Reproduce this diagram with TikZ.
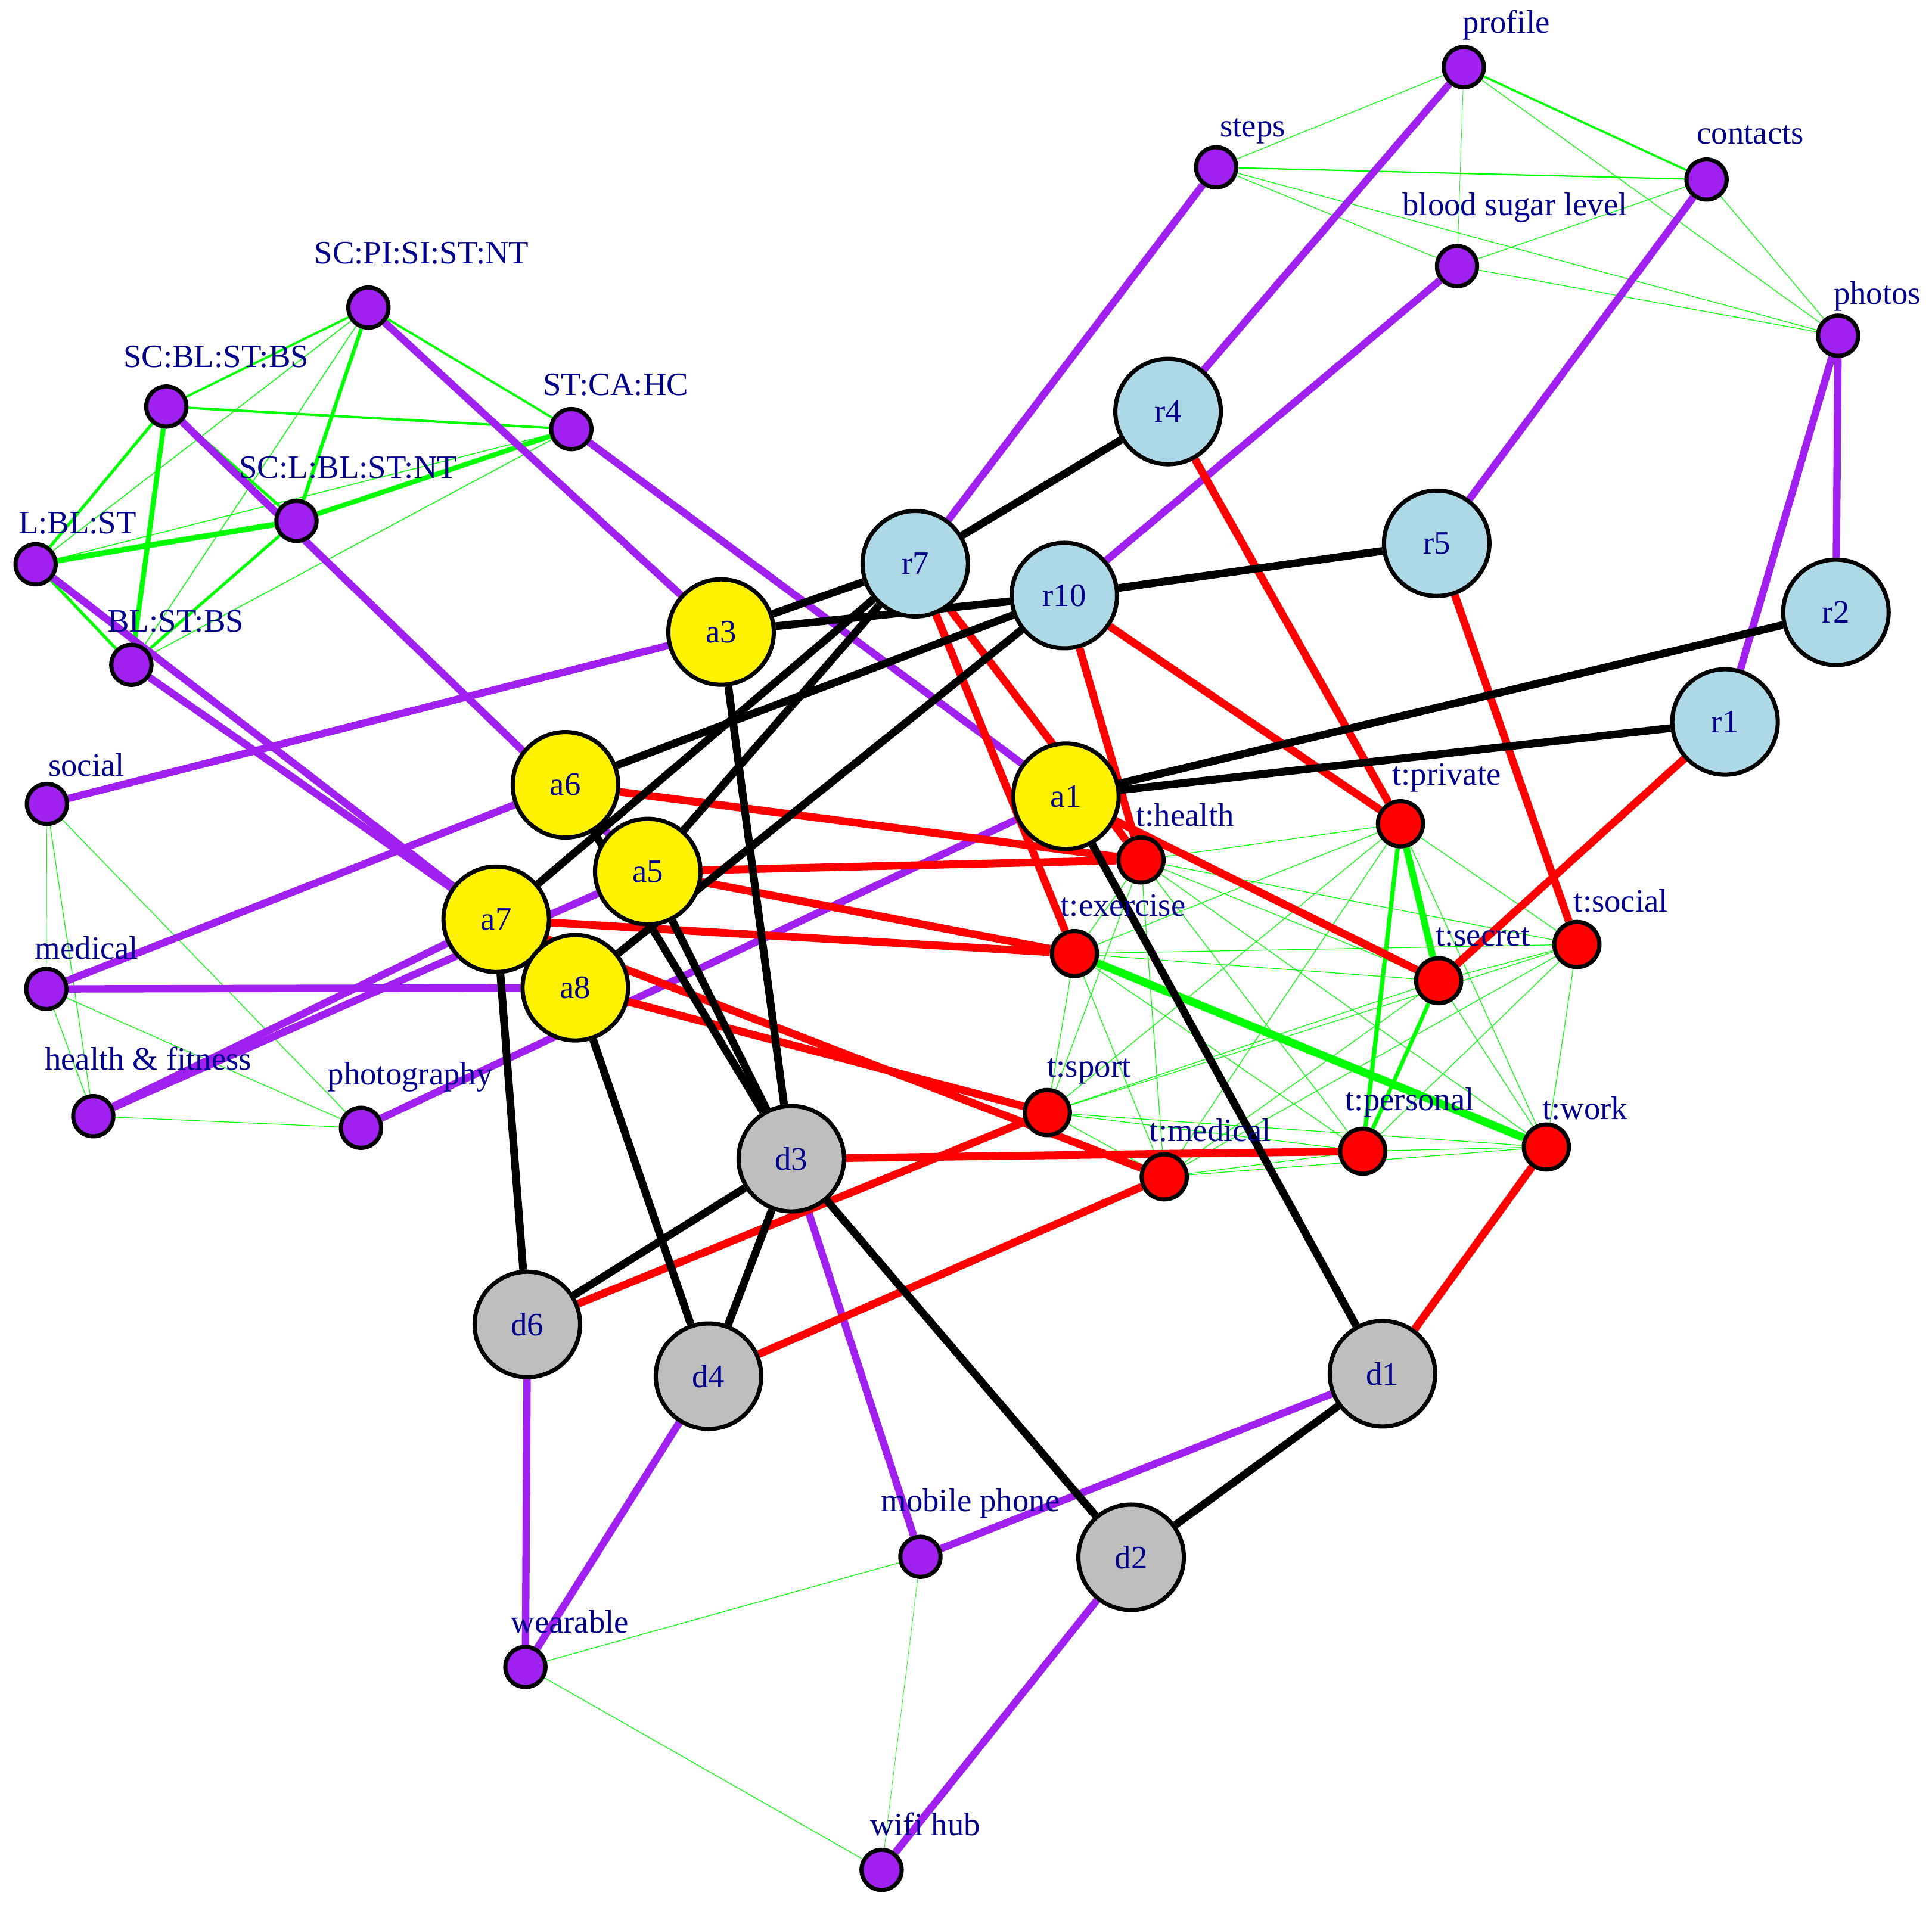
\documentclass[tikz,border=0pt]{standalone}
\usepackage{fontspec}
\setmainfont{Liberation Serif}
\definecolor{vpurple}{HTML}{A020F0}
\definecolor{vblue}{HTML}{ADD8E6}
\definecolor{vgrey}{HTML}{BEBEBE}
\definecolor{vgreen}{HTML}{00FF00}
\definecolor{lblue}{HTML}{00008B}
\newcommand\lblfont{\fontsize{26.5}{30}\selectfont}
\pgfdeclarelayer{bg}
\pgfdeclarelayer{edges}
\pgfsetlayers{bg,edges,main}
\tikzset{
  vtx/.style={circle,draw=black,line width=3.4pt,inner sep=0pt,text=lblue,font=\lblfont},
  rn/.style={vtx,fill=vblue,minimum size=85.6pt},
  an/.style={vtx,fill=yellow,minimum size=85.6pt},
  dn/.style={vtx,fill=vgrey,minimum size=85.6pt},
  pn/.style={vtx,fill=vpurple,minimum size=32.6pt},
  tn/.style={vtx,fill=red,minimum size=36.6pt},
  lab/.style={anchor=base west,inner sep=0pt,text=lblue,font=\lblfont},
  ge/.style={draw=vgreen,line width=#1},
  ge/.default=0.6pt,
  pe/.style={draw=vpurple,line width=6pt},
  re/.style={draw=red,line width=6.3pt},
  be/.style={draw=black,line width=6.3pt},
}
\begin{document}
\begin{tikzpicture}[x=1pt,y=-1pt]
\useasboundingbox (0,0) rectangle (1568,1546);
\begin{pgfonlayer}{bg}
\fill[white] (0,0) rectangle (1568,1546);
\end{pgfonlayer}

% ---------- purple data nodes
\node[pn] (profile) at (1188,54.5) {};
\node[pn] (steps) at (987,135.8) {};
\node[pn] (contacts) at (1385,145.7) {};
\node[pn] (blood) at (1182.5,216) {};
\node[pn] (photos) at (1491.8,272.5) {};
\node[pn] (scpi) at (299,249.6) {};
\node[pn] (scbl) at (135,330) {};
\node[pn] (stca) at (463.7,348.3) {};
\node[pn] (scl) at (240.6,422.8) {};
\node[pn] (lbl) at (28.9,458) {};
\node[pn] (blst) at (106.6,539.6) {};
\node[pn] (social) at (38.1,652.5) {};
\node[pn] (medical) at (37.6,802.7) {};
\node[pn] (hf) at (75.7,906) {};
\node[pn] (photography) at (293,915.4) {};
\node[pn] (mobile) at (747,1263.6) {};
\node[pn] (wearable) at (426.4,1353) {};
\node[pn] (wifi) at (715.5,1517.7) {};

% ---------- red tag nodes
\node[tn] (tpriv) at (1136.6,668.6) {};
\node[tn] (thealth) at (926,698) {};
\node[tn] (texer) at (872,774) {};
\node[tn] (tsec) at (1167.6,796) {};
\node[tn] (tsoc) at (1279.8,766.6) {};
\node[tn] (tsport) at (850,903) {};
\node[tn] (tmed) at (944.9,955.2) {};
\node[tn] (tpers) at (1106,934.4) {};
\node[tn] (twork) at (1255,931) {};

% ---------- big nodes
\node[rn] (r4) at (948,334) {r4};
\node[rn] (r7) at (742.8,457.5) {r7};
\node[rn] (r10) at (863.8,483.4) {r10};
\node[rn] (r5) at (1166,441) {r5};
\node[rn] (r2) at (1490,497) {r2};
\node[rn] (r1) at (1400,586) {r1};
\node[an] (a3) at (585.2,513) {a3};
\node[an] (a1) at (865.1,646.3) {a1};
\node[an] (a6) at (458.9,637) {a6};
\node[an] (a5) at (525.7,707.4) {a5};
\node[an] (a7) at (402.7,746.2) {a7};
\node[an] (a8) at (466.9,801.7) {a8};
\node[dn] (d3) at (642.2,940.5) {d3};
\node[dn] (d6) at (428,1075) {d6};
\node[dn] (d4) at (575,1117) {d4};
\node[dn] (d1) at (1122,1115) {d1};
\node[dn] (d2) at (918,1264) {d2};

% ---------- labels
\node[lab] (lprofile) at (1187,27) {profile};
\node[lab] (lsteps) at (990,111) {steps};
\node[lab] (lcontacts) at (1377,117) {contacts};
\node[lab] (lblood) at (1138,175) {blood sugar level};
\node[lab] (lphotos) at (1488,247) {photos};
\node[lab] (lscpi) at (255,214) {SC:PI:SI:ST:NT};
\node[lab] (lscbl) at (100,298) {SC:BL:ST:BS};
\node[lab] (lstca) at (440.5,321) {ST:CA:HC};
\node[lab] (lscl) at (194,388) {SC:L:BL:ST:NT};
\node[lab] (llbl) at (14.8,433) {L:BL:ST};
\node[lab] (lblst) at (87,512.7) {BL:ST:BS};
\node[lab] (lsocial) at (39,630) {social};
\node[lab] (lmedical) at (28.2,778.5) {medical};
\node[lab] (lhf) at (36.2,868.5) {health \& fitness};
\node[lab] (lphotography) at (265.7,880.3) {photography};
\node[lab] (lmobile) at (714.9,1227) {mobile phone};
\node[lab] (lwearable) at (414.5,1325.5) {wearable};
\node[lab] (lwifi) at (706.4,1490) {wifi hub};
\node[lab] (ltpriv) at (1129.7,637) {t:private};
\node[lab] (lthealth) at (921.8,670.4) {t:health};
\node[lab] (ltexer) at (860.5,743.5) {t:exercise};
\node[lab] (ltsec) at (1165,767.6) {t:secret};
\node[lab] (ltsoc) at (1277,740) {t:social};
\node[lab] (ltsport) at (849.8,874) {t:sport};
\node[lab] (ltmed) at (932.7,926.2) {t:medical};
\node[lab] (ltpers) at (1091.7,901.5) {t:personal};
\node[lab] (ltwork) at (1251.5,908.3) {t:work};

\begin{pgfonlayer}{edges}
% ---------- green: top-left cluster
\draw[ge=1.8pt] (scpi) -- (scbl);
\draw[ge=1.8pt] (scpi) -- (stca);
\draw[ge=3pt] (scpi) -- (scl);
\draw[ge=0.7pt] (scpi) -- (lbl);
\draw[ge=0.7pt] (scpi) -- (blst);
\draw[ge=2pt] (scbl) -- (stca);
\draw[ge=2.4pt] (scbl) -- (lbl);
\draw[ge=4pt] (scbl) -- (blst);
\draw[ge=2.4pt] (scbl) -- (scl);
\draw[ge=4pt] (stca) -- (scl);
\draw[ge=0.7pt] (stca) -- (lbl);
\draw[ge=0.7pt] (stca) -- (blst);
\draw[ge=4.5pt] (scl) -- (lbl);
\draw[ge=2.4pt] (scl) -- (blst);
\draw[ge=2.4pt] (lbl) -- (blst);
% ---------- green: top-right cluster
\draw[ge] (profile) -- (steps);
\draw[ge=1.7pt] (profile) -- (contacts);
\draw[ge=0.35pt] (profile) -- (blood);
\draw[ge] (profile) -- (photos);
\draw[ge=1.1pt] (steps) -- (contacts);
\draw[ge] (steps) -- (blood);
\draw[ge] (steps) -- (photos);
\draw[ge] (contacts) -- (blood);
\draw[ge] (contacts) -- (photos);
\draw[ge] (blood) -- (photos);
% ---------- green: bottom-left cluster
\draw[ge=0.35pt] (social) -- (medical);
\draw[ge] (social) -- (hf);
\draw[ge] (social) -- (photography);
\draw[ge] (medical) -- (hf);
\draw[ge] (medical) -- (photography);
\draw[ge] (hf) -- (photography);
% ---------- green: devices
\draw[ge] (wearable) -- (mobile);
\draw[ge] (wearable) -- (wifi);
\draw[ge=0.35pt] (mobile) -- (wifi);
% ---------- green: tag cluster
\foreach \u/\v in {tpriv/thealth,tpriv/texer,tpriv/tsoc,tpriv/tsport,tpriv/tmed,tpriv/twork,
  thealth/texer,thealth/tsec,thealth/tsoc,thealth/tsport,thealth/tmed,thealth/tpers,thealth/twork,
  texer/tsec,texer/tsoc,texer/tsport,texer/tmed,texer/tpers,
  tsec/tsoc,tsec/tsport,tsec/tmed,tsec/twork,
  tsoc/tsport,tsoc/tmed,tsoc/tpers,tsoc/twork,
  tsport/tmed,tsport/tpers,tsport/twork,
  tmed/tpers,tmed/twork,tpers/twork}
  \draw[ge] (\u) -- (\v);
\draw[ge=5.5pt] (tpriv) -- (tsec);
\draw[ge=3.5pt] (tpriv) -- (tpers);
\draw[ge=3.2pt] (tsec) -- (tpers);
\draw[ge=6.5pt] (texer) -- (twork);

% ---------- purple
\draw[pe] (steps) -- (r7);
\draw[pe] (profile) -- (r4);
\draw[pe] (blood) -- (r10);
\draw[pe] (contacts) -- (r5);
\draw[pe] (photos) -- (r2);
\draw[pe] (photos) -- (r1);
\draw[pe] (scpi) -- (a3);
\draw[pe] (stca) -- (a1);
\draw[pe] (scbl) -- (a5);
\draw[pe] (lbl) -- (a7);
\draw[pe] (blst) -- (a7);
\draw[pe] (social) -- (a3);
\draw[pe] (medical) -- (a6);
\draw[pe] (medical) -- (a8);
\draw[pe] (hf) -- (a7);
\draw[pe] (hf) -- (a5);
\draw[pe] (photography) -- (a1);
\draw[pe] (d3) -- (mobile);
\draw[pe] (d1) -- (mobile);
\draw[pe] (d6) -- (wearable);
\draw[pe] (d4) -- (wearable);
\draw[pe] (d2) -- (wifi);

% ---------- red
\draw[re] (r4) -- (tpriv);
\draw[re] (r5) -- (tsoc);
\draw[re] (r1) -- (tsec);
\draw[re] (r10) -- (tpriv);
\draw[re] (r10) -- (thealth);
\draw[re] (r7) -- (thealth);
\draw[re] (r7) -- (texer);
\draw[re] (a1) -- (tsec);
\draw[re] (a6) -- (thealth);
\draw[re] (a5) -- (thealth);
\draw[re] (a5) -- (texer);
\draw[re] (a7) -- (texer);
\draw[re] (a7) -- (tmed);
\draw[re] (a8) -- (tsport);
\draw[re] (d3) -- (tpers);
\draw[re] (d4) -- (tmed);
\draw[re] (d6) -- (tsport);
\draw[re] (d1) -- (twork);

% ---------- black
\draw[be] (r4) -- (r7);
\draw[be] (r7) -- (a3);
\draw[be] (a3) -- (r10);
\draw[be] (r10) -- (r5);
\draw[be] (r10) -- (a6);
\draw[be] (r10) -- (a8);
\draw[be] (r7) -- (a7);
\draw[be] (r7) -- (a5);
\draw[be] (a3) -- (d3);
\draw[be] (a1) -- (r1);
\draw[be] (a1) -- (r2);
\draw[be] (a1) -- (d1);
\draw[be] (a5) -- (d3);
\draw[be] (a6) -- (d3);
\draw[be] (a7) -- (d6);
\draw[be] (a8) -- (d4);
\draw[be] (d3) -- (d6);
\draw[be] (d3) -- (d4);
\draw[be] (d3) -- (d2);
\draw[be] (d1) -- (d2);
\end{pgfonlayer}
\end{tikzpicture}
\end{document}
